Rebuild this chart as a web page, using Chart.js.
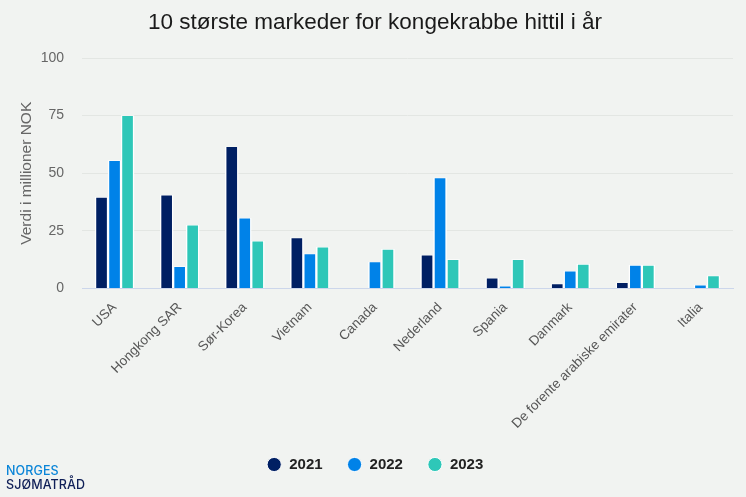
<!DOCTYPE html>
<html>
<head>
<meta charset="utf-8">
<style>
  html, body { margin: 0; padding: 0; background: #f1f3f1; }
  #wrap { position: relative; width: 746px; height: 497px; overflow: hidden; }
  #logo { position: absolute; left: 6px; top: 464px; font-family: "Inter", "Liberation Sans", sans-serif; font-size: 12.5px; line-height: 14px; font-weight: 500; letter-spacing: 0.1px; }
  #logo .a { color: #0a85d8; }
  #logo .b { color: #0f1f57; }
</style>
</head>
<body>
<div id="wrap">
  <canvas id="chart" width="746" height="497"></canvas>
  <div id="logo"><div class="a">NORGES</div><div class="b">SJØMATRÅD</div></div>
</div>
<script src="https://cdn.jsdelivr.net/npm/chart.js@4"></script>
<script>
const categories = ["USA", "Hongkong SAR", "Sør-Korea", "Vietnam", "Canada", "Nederland", "Spania", "Danmark", "De forente arabiske emirater", "Italia"];
const values2021 = [39.5, 40.5, 61.5, 22, 0.2, 14.5, 4.5, 2, 2.5, 0.2];
const values2022 = [55.5, 9.5, 30.5, 15, 11.5, 48, 1, 7.5, 10, 1.5];
const values2023 = [75, 27.5, 20.5, 18, 17, 12.5, 12.5, 10.5, 10, 5.5];
const yTicks = [0, 25, 50, 75, 100];

const font = "'Liberation Sans', Arial, sans-serif";

function makeSet(label, data, color) {
    return {
        label: label,
        data: data,
        backgroundColor: color,
        borderColor: "#ffffff",
        borderWidth: { top: 0.7, left: 1.5, right: 1.5, bottom: 0 },
        barThickness: 13,
        categoryPercentage: 0.6,
        barPercentage: 1
    };
}

new Chart(document.getElementById("chart").getContext("2d"), {
    type: "bar",
    data: {
        labels: categories,
        datasets: [
            makeSet("2021", values2021, "#001f63"),
            makeSet("2022", values2022, "#0082e8"),
            makeSet("2023", values2023, "#2ec7b8")
        ]
    },
    options: {
        responsive: false,
        animation: false,
        layout: { padding: { left: 17, right: 13, top: 9, bottom: 15 } },
        plugins: {
            title: {
                display: true,
                text: "10 største markeder for kongekrabbe hittil i år",
                color: "#1a1a1a",
                font: { family: font, size: 22.5, weight: "normal" },
                padding: { top: 0, bottom: 22 }
            },
            legend: {
                position: "bottom",
                labels: {
                    usePointStyle: true,
                    pointStyle: "circle",
                    boxWidth: 15,
                    boxHeight: 10,
                    padding: 24.5,
                    color: "#222222",
                    font: { family: font, size: 15, weight: "bold" }
                }
            },
            tooltip: { enabled: false }
        },
        scales: {
            x: {
                grid: { display: false },
                border: { color: "#ccd6eb" },
                ticks: {
                    minRotation: 45,
                    maxRotation: 45,
                    autoSkip: false,
                    color: "#555555",
                    font: { family: font, size: 13.5 }
                },
                afterFit: function (scale) { scale.height = 144; }
            },
            y: {
                min: 0,
                max: 100,
                afterBuildTicks: function (scale) { scale.ticks = yTicks.map(v => ({ value: v })); },
                grid: { color: "#e3e6e3", drawTicks: false },
                border: { display: false },
                ticks: {
                    padding: 18,
                    color: "#666666",
                    font: { family: font, size: 14 }
                },
                title: {
                    display: true,
                    text: "Verdi i millioner NOK",
                    color: "#666666",
                    font: { family: font, size: 15.5 },
                    padding: 0
                },
                afterFit: function (scale) { scale.width = 65; }
            }
        }
    }
});
</script>
</body>
</html>
